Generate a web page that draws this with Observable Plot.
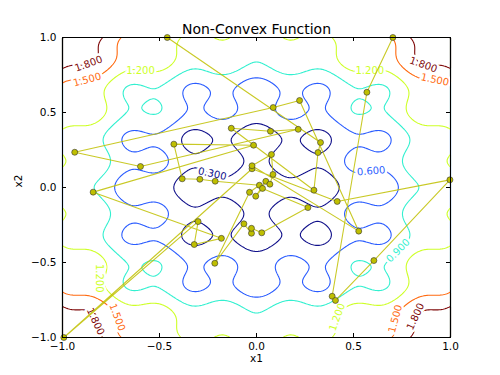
<!DOCTYPE html>
<html><head><meta charset="utf-8">
<script src="https://cdn.jsdelivr.net/npm/d3@7"></script>
<script src="https://cdn.jsdelivr.net/npm/@observablehq/plot@0.6"></script>
<style>body{margin:0;background:#fff}svg{font-family:"DejaVu Sans",sans-serif}</style>
</head><body><div id="chart"></div>
<script>
// Path of accepted points (x1, x2), in visiting order
const pathX1 = [0.703,0.569,0.390,0.407,0.605,0.997,0.416,-0.023,-0.993,-0.301,-0.321,-0.181,-0.842,-0.015,-0.426,-0.383,-0.292,-0.213,0.015,-0.036,-0.215,-0.065,-0.026,-0.026,0.027,0.265,0.031,-0.004,0.048,0.069,0.085,0.077,-0.023,0.527,0.222,0.086,-0.937,-0.598,0.215,0.072,-0.130,0.296,0.317,0.330,-0.460];
const pathX2 = [1.000,0.635,-0.725,-0.753,-0.487,0.051,-0.093,0.125,-1.000,-0.227,-0.380,-0.339,-0.031,0.282,0.289,0.058,0.055,0.042,0.015,-0.032,-0.505,-0.242,-0.305,-0.272,-0.302,-0.134,-0.006,-0.058,0.041,0.022,0.087,0.220,0.145,-0.291,0.580,0.533,0.235,0.140,0.388,0.375,0.395,-0.018,0.233,0.300,1.000];

// Contour levels and their colours
const levels = [0.3, 0.6, 0.9, 1.2, 1.5, 1.8];
const levelColors = ["#10108a", "#2a5cff", "#33f0d0", "#ceff29", "#ff6a10", "#7f0a0a"];

// Inline contour labels
const labelText = ["1.800","1.500","1.200","1.200","1.800","1.500","0.300","0.600","0.900","1.200","1.500","1.800","1.200","1.500","1.800"];
const labelX1 = [-0.865,-0.873,-0.598,0.584,0.86,0.92,-0.228,0.591,0.73,-0.81,-0.718,-0.83,0.416,0.716,0.82];
const labelX2 = [0.825,0.718,0.78,0.775,0.818,0.718,0.091,0.109,-0.42,-0.605,-0.865,-0.893,-0.865,-0.875,-0.86];
const labelRot = [-20,-15,0,0,20,12,12,-5,-45,90,70,65,-70,-75,-65];

const ticks = [-1.0, -0.5, 0.0, 0.5, 1.0];

// Non-convex test surface plotted by the contours
const surfA = 0.2, surfB = 0.1, surfK = 6 * Math.PI;
const surface = (x, y) => surfA + x*x + y*y - surfB*Math.cos(surfK*x) - surfB*Math.cos(surfK*y);

const pts = pathX1.map((x, i) => ({x1: x, x2: pathX2[i]}));
const labels = labelText.map((t, i) => ({t, x1: labelX1[i], x2: labelX2[i], r: labelRot[i], c: levelColors[levels.indexOf(+t)]}));

const W = 500, H = 375, mL = 62, mR = 50, mT = 37, mB = 38;
const pw = W - mL - mR, ph = H - mT - mB;

const marks = [];
levels.forEach((lv, i) => {
  marks.push(Plot.contour({value: surface, x1: -1, x2: 1, y1: -1, y2: 1, thresholds: [lv], stroke: levelColors[i], fill: "none", strokeWidth: 1.1, pixelSize: 1}));
});
marks.push(
  Plot.text(labels, {x: "x1", y: "x2", text: "t", rotate: "r", fill: "c", stroke: "white", strokeWidth: 5, paintOrder: "stroke", fontSize: 10}),
  Plot.line(pts, {x: "x1", y: "x2", stroke: "#bfbf00", strokeWidth: 1.1, strokeOpacity: 0.85}),
  Plot.dot(pts, {x: "x1", y: "x2", r: 3, fill: "#bfbf00", stroke: "#333", strokeWidth: 0.6}),
  Plot.tickX(ticks, {x: d => d, insetTop: ph - 4, stroke: "black"}),
  Plot.tickX(ticks, {x: d => d, insetBottom: ph - 4, stroke: "black"}),
  Plot.tickY(ticks, {y: d => d, insetRight: pw - 4, stroke: "black"}),
  Plot.tickY(ticks, {y: d => d, insetLeft: pw - 4, stroke: "black"}),
  Plot.frame({stroke: "black", strokeWidth: 1}),
  Plot.axisX(ticks, {anchor: "bottom", tickSize: 0, tickPadding: 5, tickFormat: d3.format(".1f"), fontSize: 10.5, label: null}),
  Plot.axisY(ticks, {anchor: "left", tickSize: 0, tickPadding: 6, tickFormat: d3.format(".1f"), fontSize: 10.5, label: null}),
  Plot.text(["Non-Convex Function"], {frameAnchor: "top", lineAnchor: "bottom", dy: -4, fontSize: 14, fill: "black"}),
  Plot.text(["x1"], {frameAnchor: "bottom", lineAnchor: "top", dy: 17, fontSize: 10.5, fill: "black"}),
  Plot.text(["x2"], {frameAnchor: "left", dx: -44, rotate: -90, fontSize: 10.5, fill: "black"})
);

const chart = Plot.plot({
  width: W, height: H,
  marginLeft: mL, marginRight: mR, marginTop: mT, marginBottom: mB,
  x: {domain: [-1, 1]},
  y: {domain: [-1, 1]},
  style: {fontFamily: "DejaVu Sans, sans-serif", background: "white", fontSize: "11px"},
  marks
});
document.getElementById("chart").appendChild(chart);
</script></body></html>
